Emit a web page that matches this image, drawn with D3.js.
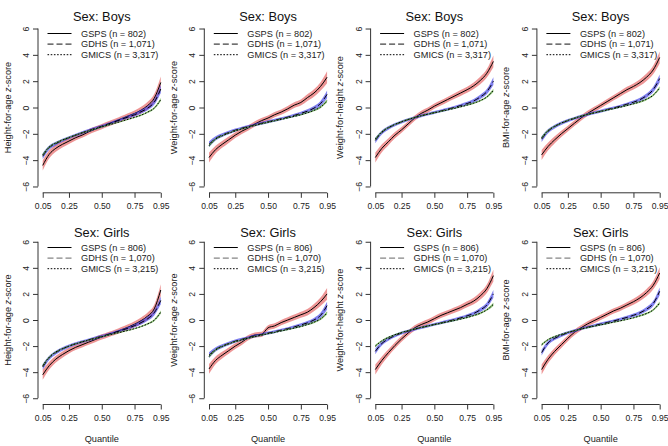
<!DOCTYPE html>
<html>
<head>
<meta charset="utf-8">
<script src="https://cdn.jsdelivr.net/npm/d3@7"></script>
<style>
  body { margin: 0; background: #fff; }
  svg { display: block; font-family: "Liberation Sans", Arial, sans-serif; }
  .tick text { fill: #222; font-size: 8.6px; }
  .tick line, .axisline { stroke: #333; stroke-width: 1; }
  .title { font-size: 12.8px; fill: #111; }
  .ylab, .xlab { font-size: 9.2px; fill: #222; }
  .leg { font-size: 9.2px; fill: #222; }
</style>
</head>
<body>
<script>
// quantiles 0.05 .. 0.95
var quantiles = [0.05,0.10,0.15,0.20,0.25,0.30,0.35,0.40,0.45,0.50,0.55,0.60,0.65,0.70,0.75,0.80,0.85,0.90,0.95]
var xTicks = [0.05, 0.25, 0.50, 0.75, 0.95]
var yTicks = [-6, -4, -2, 0, 2, 4, 6]
var surveys = ["GSPS", "GDHS", "GMICS"]
var boysN = [802, 1071, 3317]
var girlsN = [806, 1070, 3215]
var yLabels = ["Height-for-age", "Weight-for-age", "Weight-for-height", "BMI-for-age"]

// half widths of the shaded bands
var gspsBand  = [0.38,0.3,0.26,0.24,0.22,0.21,0.2,0.2,0.2,0.2,0.2,0.2,0.21,0.22,0.23,0.25,0.28,0.32,0.45]
var gdhsBand  = [0.22,0.16,0.14,0.13,0.12,0.11,0.11,0.11,0.11,0.11,0.11,0.11,0.11,0.12,0.13,0.14,0.16,0.2,0.3]
var gmicsBand = [0.1,0.07,0.06,0.05,0.05,0.05,0.05,0.05,0.05,0.05,0.05,0.05,0.05,0.05,0.05,0.06,0.07,0.08,0.12]

// boys
var boysHaz_gsps  = [-4.4,-3.55,-3.1,-2.8,-2.55,-2.3,-2.1,-1.85,-1.65,-1.45,-1.25,-1.05,-0.85,-0.65,-0.45,-0.2,0.15,0.7,1.9]
var boysHaz_gdhs  = [-3.7,-3.05,-2.75,-2.5,-2.3,-2.1,-1.92,-1.75,-1.58,-1.42,-1.25,-1.08,-0.9,-0.72,-0.55,-0.32,-0.05,0.4,1.4]
var boysHaz_gmics = [-3.6,-3.0,-2.7,-2.47,-2.28,-2.1,-1.93,-1.77,-1.62,-1.47,-1.33,-1.19,-1.05,-0.9,-0.75,-0.58,-0.35,-0.05,0.6]
var boysWaz_gsps  = [-3.8,-3.2,-2.8,-2.45,-2.1,-1.8,-1.55,-1.25,-1.0,-0.8,-0.55,-0.35,-0.1,0.18,0.38,0.75,1.1,1.6,2.3]
var boysWaz_gdhs  = [-2.8,-2.35,-2.1,-1.9,-1.72,-1.57,-1.44,-1.32,-1.2,-1.08,-0.97,-0.85,-0.73,-0.6,-0.45,-0.28,-0.05,0.3,1.0]
var boysWaz_gmics = [-2.9,-2.4,-2.15,-1.95,-1.78,-1.62,-1.48,-1.36,-1.24,-1.12,-1.01,-0.9,-0.79,-0.67,-0.55,-0.4,-0.22,0.03,0.5]
var boysWhz_gsps  = [-3.8,-3.1,-2.6,-2.1,-1.7,-1.25,-0.8,-0.45,-0.2,0.1,0.35,0.6,0.85,1.1,1.35,1.65,2.05,2.6,3.5]
var boysWhz_gdhs  = [-2.5,-1.9,-1.55,-1.3,-1.1,-0.92,-0.77,-0.63,-0.5,-0.38,-0.26,-0.13,0.0,0.15,0.3,0.5,0.8,1.2,2.0]
var boysWhz_gmics = [-2.4,-1.85,-1.52,-1.28,-1.08,-0.91,-0.76,-0.63,-0.51,-0.4,-0.29,-0.18,-0.07,0.05,0.18,0.33,0.52,0.8,1.3]
var boysBaz_gsps  = [-3.6,-2.95,-2.45,-2.0,-1.6,-1.2,-0.8,-0.45,-0.15,0.15,0.45,0.75,1.05,1.35,1.6,1.9,2.3,2.85,3.8]
var boysBaz_gdhs  = [-2.4,-1.8,-1.45,-1.2,-1.0,-0.83,-0.67,-0.53,-0.4,-0.28,-0.15,-0.03,0.1,0.25,0.4,0.6,0.9,1.35,2.2]
var boysBaz_gmics = [-2.3,-1.75,-1.42,-1.18,-0.98,-0.81,-0.66,-0.53,-0.41,-0.3,-0.19,-0.08,0.03,0.15,0.28,0.43,0.63,0.93,1.5]

// girls
var girlsHaz_gsps  = [-4.2,-3.5,-3.0,-2.65,-2.35,-2.1,-1.9,-1.7,-1.5,-1.3,-1.12,-0.95,-0.75,-0.55,-0.32,-0.05,0.3,0.85,2.3]
var girlsHaz_gdhs  = [-3.6,-2.9,-2.5,-2.22,-2.0,-1.82,-1.67,-1.52,-1.38,-1.25,-1.1,-0.95,-0.8,-0.63,-0.43,-0.2,0.1,0.55,1.5]
var girlsHaz_gmics = [-3.5,-2.85,-2.45,-2.2,-2.0,-1.83,-1.68,-1.54,-1.41,-1.28,-1.16,-1.04,-0.92,-0.8,-0.66,-0.5,-0.3,-0.02,0.6]
var girlsWaz_gsps  = [-3.75,-3.1,-2.7,-2.35,-2.0,-1.7,-1.35,-1.15,-1.1,-0.6,-0.45,-0.2,0.0,0.2,0.4,0.6,0.95,1.4,2.0]
var girlsWaz_gdhs  = [-2.7,-2.25,-2.0,-1.8,-1.62,-1.48,-1.35,-1.23,-1.12,-1.0,-0.9,-0.78,-0.66,-0.53,-0.38,-0.22,0.0,0.35,1.1]
var girlsWaz_gmics = [-2.8,-2.3,-2.03,-1.83,-1.66,-1.52,-1.39,-1.27,-1.16,-1.05,-0.95,-0.84,-0.73,-0.62,-0.5,-0.35,-0.17,0.08,0.55]
var girlsWhz_gsps  = [-3.8,-3.1,-2.5,-1.95,-1.45,-1.0,-0.6,-0.35,-0.15,0.1,0.35,0.55,0.75,0.95,1.2,1.45,1.85,2.4,3.4]
var girlsWhz_gdhs  = [-2.4,-1.8,-1.45,-1.2,-1.0,-0.85,-0.71,-0.58,-0.46,-0.34,-0.22,-0.1,0.02,0.16,0.32,0.5,0.78,1.15,2.0]
var girlsWhz_gmics = [-2.0,-1.6,-1.33,-1.13,-0.96,-0.82,-0.69,-0.57,-0.46,-0.35,-0.25,-0.14,-0.04,0.07,0.19,0.34,0.52,0.78,1.2]
var girlsBaz_gsps  = [-3.8,-3.0,-2.4,-1.9,-1.4,-0.95,-0.6,-0.3,-0.05,0.2,0.45,0.7,0.9,1.15,1.4,1.7,2.1,2.65,3.6]
var girlsBaz_gdhs  = [-2.5,-1.75,-1.4,-1.17,-0.98,-0.82,-0.68,-0.55,-0.43,-0.31,-0.19,-0.07,0.06,0.2,0.36,0.55,0.83,1.25,2.2]
var girlsBaz_gmics = [-1.9,-1.5,-1.27,-1.1,-0.95,-0.82,-0.7,-0.58,-0.47,-0.37,-0.27,-0.16,-0.06,0.05,0.17,0.32,0.5,0.77,1.3]

var boysData = [
  [boysHaz_gsps, boysHaz_gdhs, boysHaz_gmics],
  [boysWaz_gsps, boysWaz_gdhs, boysWaz_gmics],
  [boysWhz_gsps, boysWhz_gdhs, boysWhz_gmics],
  [boysBaz_gsps, boysBaz_gdhs, boysBaz_gmics]]
var girlsData = [
  [girlsHaz_gsps, girlsHaz_gdhs, girlsHaz_gmics],
  [girlsWaz_gsps, girlsWaz_gdhs, girlsWaz_gmics],
  [girlsWhz_gsps, girlsWhz_gdhs, girlsWhz_gmics],
  [girlsBaz_gsps, girlsBaz_gdhs, girlsBaz_gmics]]

var bands = [gspsBand, gdhsBand, gmicsBand]
var bandColors = ["rgba(225,80,80,0.6)", "rgba(60,60,230,0.65)", "rgba(90,170,60,0.7)"]
var dashes = [null, "6,3", "1.6,1.6"]

var width = 668, height = 446
var svg = d3.select("body").append("svg").attr("width", width).attr("height", height)

var rows = [
  {sex: "Boys",  data: boysData,  n: boysN,  top: 22.2,  bottom: 192.8, titleY: 21,  legY: 33.5, gdhsLeg: "#111"},
  {sex: "Girls", data: girlsData, n: girlsN, top: 235.5, bottom: 404.5, titleY: 237, legY: 247.5, gdhsLeg: "#666"}
]

rows.forEach(function(row, r) {
  for (var c = 0; c < 4; c++) {
    var left = 38 + c * 166.3
    var x = d3.scaleLinear().domain([0.014, 0.986]).range([left, left + 127.5])
    var y = d3.scaleLinear().domain([-6.48, 6.48]).range([row.bottom, row.top])
    var g = svg.append("g")

    // bands + lines
    row.data[c].forEach(function(series, s) {
      var pts = quantiles.map(function(q, i) { return {q: q, v: series[i], w: bands[s][i]} })
      g.append("path")
        .attr("d", d3.area().curve(d3.curveMonotoneX)
          .x(function(d) { return x(d.q) })
          .y0(function(d) { return y(d.v - d.w) })
          .y1(function(d) { return y(d.v + d.w) })(pts))
        .attr("fill", bandColors[s])
      g.append("path")
        .attr("d", d3.line().curve(d3.curveMonotoneX)
          .x(function(d) { return x(d.q) })
          .y(function(d) { return y(d.v) })(pts))
        .attr("fill", "none")
        .attr("stroke", "#000")
        .attr("stroke-width", 1)
        .attr("stroke-dasharray", dashes[s])
    })

    // x axis
    var xg = g.append("g").attr("transform", "translate(0," + row.bottom + ")")
      .call(d3.axisBottom(x).tickValues(xTicks).tickFormat(d3.format(".2f")).tickSize(5).tickPadding(5))
    xg.select(".domain").remove()
    xg.append("line").attr("class", "axisline")
      .attr("x1", x(xTicks[0])).attr("x2", x(xTicks[xTicks.length - 1]))
    xg.selectAll(".tick text").attr("font-family", null).attr("font-size", null)
    if (r === 1) {
      g.append("text").attr("class", "xlab")
        .attr("x", (x.range()[0] + x.range()[1]) / 2).attr("y", 442)
        .attr("text-anchor", "middle").text("Quantile")
    }

    // y axis
    var yg = g.append("g").attr("transform", "translate(" + left + ",0)")
      .call(d3.axisLeft(y).tickValues(yTicks).tickSize(5))
    yg.select(".domain").remove()
    yg.append("line").attr("class", "axisline")
      .attr("y1", y(yTicks[0])).attr("y2", y(yTicks[yTicks.length - 1]))
    yg.selectAll(".tick text")
      .attr("font-family", null).attr("font-size", null)
      .attr("transform", "rotate(-90)")
      .attr("x", 0).attr("y", -9).attr("dy", 0)
      .attr("text-anchor", "middle")

    var yl = g.append("text").attr("class", "ylab")
      .attr("transform", "translate(" + (left - 27.5) + "," + ((row.top + row.bottom) / 2) + ") rotate(-90)")
      .attr("text-anchor", "middle")
    yl.append("tspan").text(yLabels[c] + " ")
    yl.append("tspan").attr("font-style", "italic").text("z")
    yl.append("tspan").text("-score")

    // title
    g.append("text").attr("class", "title")
      .attr("x", (x.range()[0] + x.range()[1]) / 2).attr("y", row.titleY)
      .attr("text-anchor", "middle").text("Sex: " + row.sex)

    // legend
    surveys.forEach(function(name, s) {
      var ly = row.legY + s * 10.6
      g.append("line")
        .attr("x1", left + 9.5).attr("x2", left + 33.5)
        .attr("y1", ly).attr("y2", ly)
        .attr("stroke", s === 1 ? row.gdhsLeg : "#000")
        .attr("stroke-width", 1)
        .attr("stroke-dasharray", dashes[s])
      g.append("text").attr("class", "leg")
        .attr("x", left + 43).attr("y", ly + 3.3)
        .text(name + " (n = " + d3.format(",")(row.n[s]) + ")")
    })
  }
})
</script>
</body>
</html>
